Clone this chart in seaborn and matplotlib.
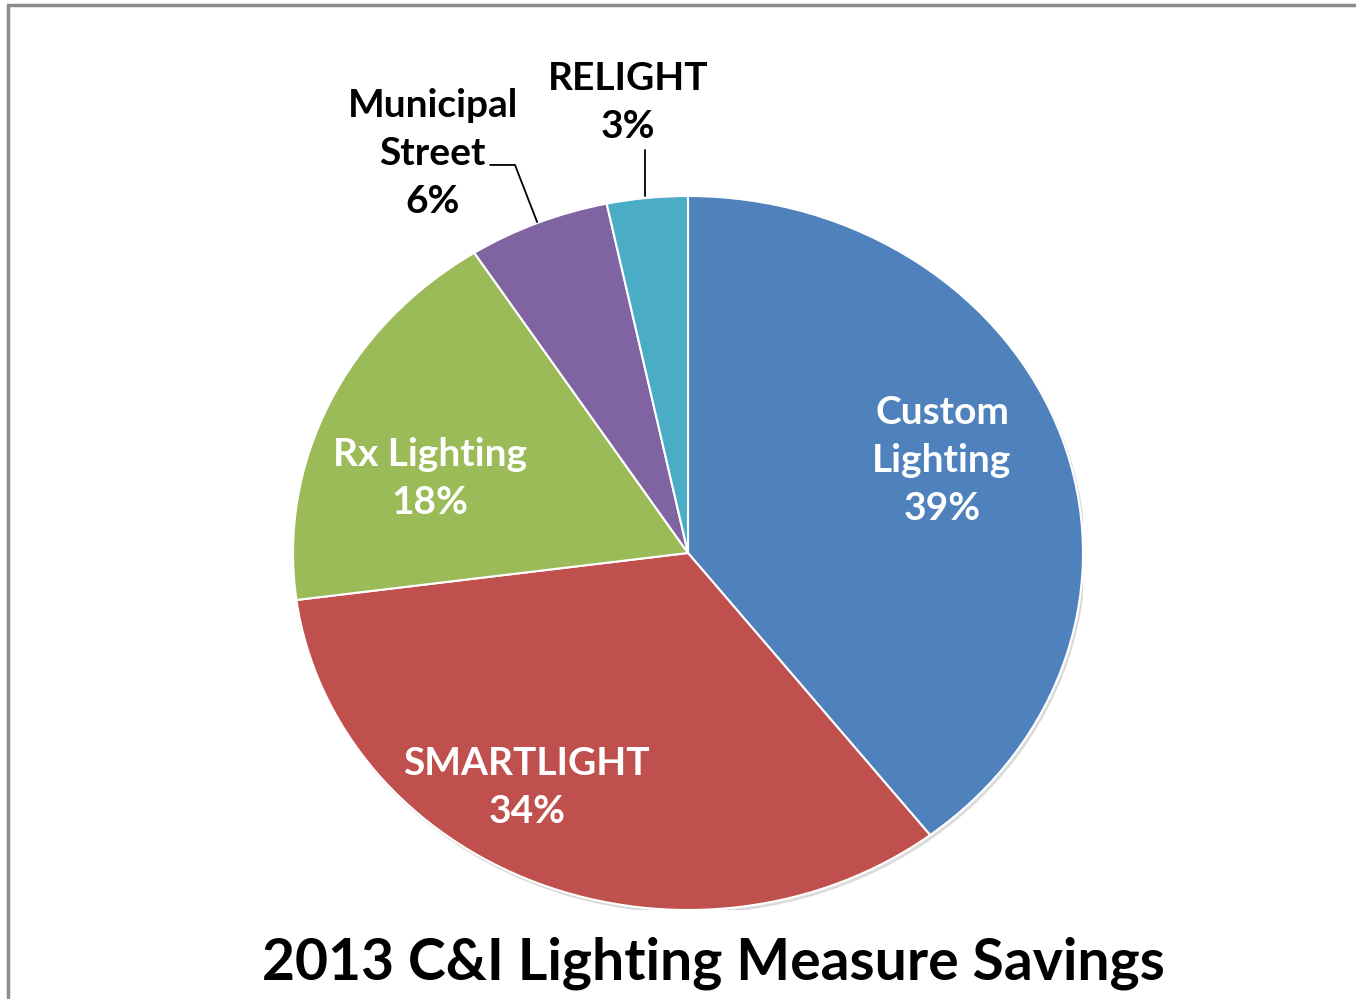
import matplotlib.pyplot as plt
import matplotlib.patches as mpatches
import seaborn as sns

# values (slice angles), labels show rounded percents
categories = ['Custom\nLighting', 'SMARTLIGHT', 'Rx Lighting', 'Municipal\nStreet', 'RELIGHT']
savings = [39.5, 33.4, 18.0, 5.8, 3.3]
pct_labels = ['39%', '34%', '18%', '6%', '3%']
colors = ['#4F81BD', '#C0504D', '#9BBB59', '#8064A2', '#4BACC6']

sns.set_theme(style='white')
plt.rcParams['font.family'] = ['Lato', 'DejaVu Sans']

fig = plt.figure(figsize=(13.56, 9.99), dpi=100)
W, H = 1356, 999
cx, cy, rx, ry = 688, 553, 395, 357
ax = fig.add_axes([(cx - rx) / W, (H - cy - ry) / H, 2 * rx / W, 2 * ry / H])

# soft shadow behind the pie
ax.add_patch(mpatches.Ellipse((0.005, -0.008), 2.0, 2.0, color='#cccccc', alpha=0.6, zorder=0))

wedges, _ = ax.pie(savings, colors=colors, startangle=90, counterclock=False,
                   wedgeprops=dict(edgecolor='white', linewidth=1.5))
ax.set_aspect('auto')
ax.set_xlim(-1, 1)
ax.set_ylim(-1, 1)
ax.axis('off')

fs = 28
ls = 1.45
# inside labels
inside = {0: (0.643, 0.260), 1: (-0.408, -0.658), 2: (-0.653, 0.210)}
for i, (x, y) in inside.items():
    ax.text(x, y, categories[i] + '\n' + pct_labels[i], ha='center', va='center',
            color='white', fontsize=fs, fontweight='bold', linespacing=ls)

# outside labels with leader lines
ax.text(-0.646, 1.120, categories[3] + '\n' + pct_labels[3], ha='center', va='center',
        color='black', fontsize=fs, fontweight='bold', linespacing=ls, clip_on=False)
ax.plot([-0.501, -0.438, -0.382], [1.087, 1.087, 0.927], color='black', lw=1.3, clip_on=False)
ax.text(-0.152, 1.263, categories[4] + '\n' + pct_labels[4], ha='center', va='center',
        color='black', fontsize=fs, fontweight='bold', linespacing=ls, clip_on=False)
ax.plot([-0.109, -0.109], [1.129, 1.0], color='black', lw=1.3, clip_on=False)

fig.text(713 / W, 1 - 963 / H, '2013 C&I Lighting Measure Savings', ha='center', va='center',
         fontsize=41, fontweight='bold', color='black')

# chart frame, cut off at the right and bottom edges
fig.patches.append(mpatches.Rectangle((8 / W, -0.1), 1.2, 1.1 - 5 / H, transform=fig.transFigure,
                                      fill=False, edgecolor='#8c8c8c', linewidth=2.5))

fig.savefig('out.png', dpi=100)
